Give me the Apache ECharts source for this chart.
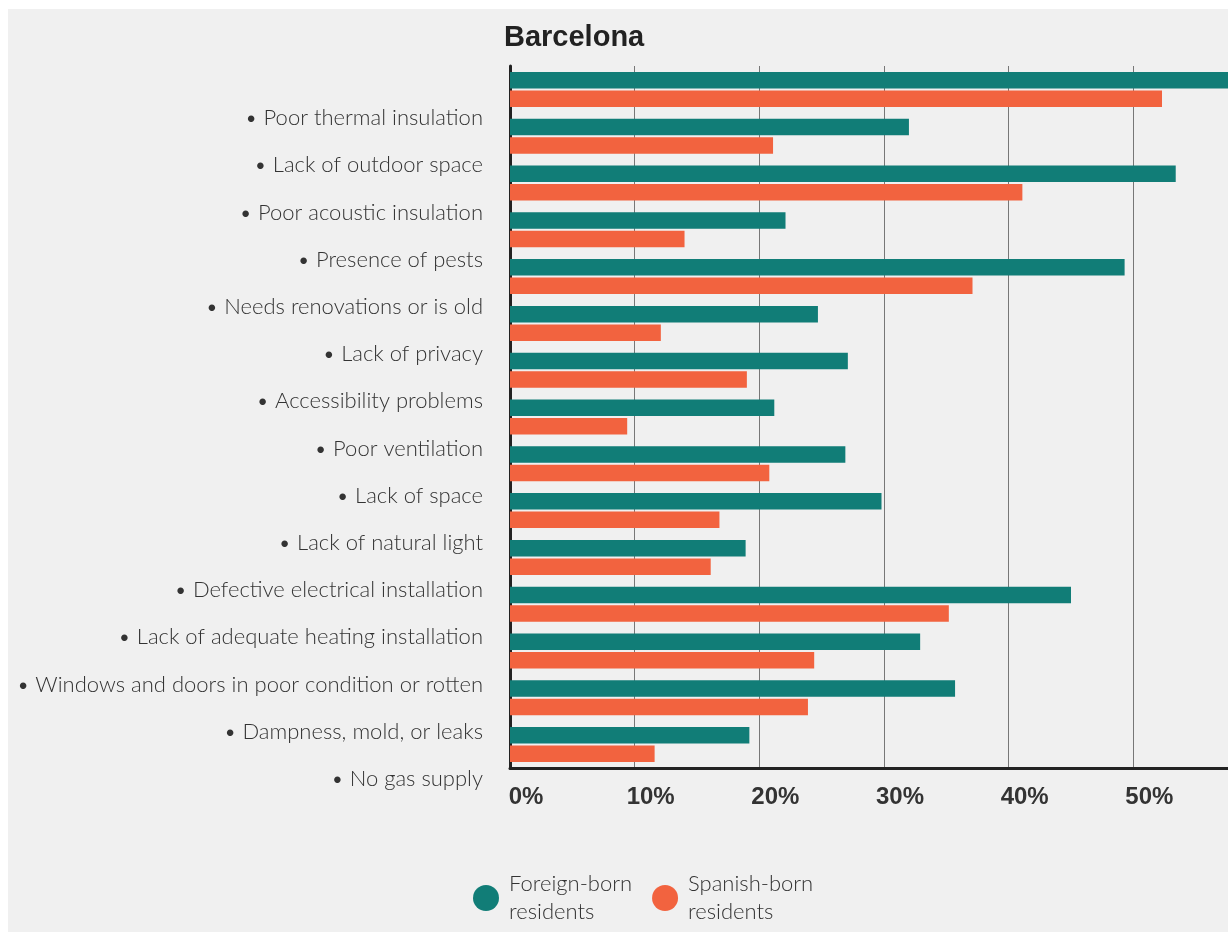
<!DOCTYPE html>
<html>
<head>
<meta charset="utf-8">
<title>Barcelona</title>
<script src="https://cdn.jsdelivr.net/npm/echarts@6/dist/echarts.min.js"></script>
<style>
  html, body { margin: 0; padding: 0; background: #fff; }
  #panel { position: absolute; left: 8px; top: 9px; right: 0; bottom: 0; background: #f0f0f0; }
  #chart { position: absolute; left: 0; top: 0; width: 1228px; height: 932px; }
</style>
</head>
<body>
<div id="panel"></div>
<div id="chart"></div>
<script>
// tick labels on the left (they sit one row below their bars in the original)
const problems = [
  'Poor thermal insulation',
  'Lack of outdoor space',
  'Poor acoustic insulation',
  'Presence of pests',
  'Needs renovations or is old',
  'Lack of privacy',
  'Accessibility problems',
  'Poor ventilation',
  'Lack of space',
  'Lack of natural light',
  'Defective electrical installation',
  'Lack of adequate heating installation',
  'Windows and doors in poor condition or rotten',
  'Dampness, mold, or leaks',
  'No gas supply'
];

// bar rows, top to bottom (%)
const barRows = ['1', '2', '3', '4', '5', '6', '7', '8', '9', '10', '11', '12', '13', '14', '15'];
const foreignBorn = [58, 32.0, 53.4, 22.1, 49.3, 24.7, 27.1, 21.2, 26.9, 29.8, 18.9, 45.0, 32.9, 35.7, 19.2];
const spanishBorn = [52.3, 21.1, 41.1, 14.0, 37.1, 12.1, 19.0, 9.4, 20.8, 16.8, 16.1, 35.2, 24.4, 23.9, 11.6];

const seriesNames = ['Foreign-born residents', 'Spanish-born residents'];
const xTicks = [0, 60, 10]; // min, max, interval

const chart = echarts.init(document.getElementById('chart'), null, { renderer: 'canvas' });

const lightFont = 'Lato, "Open Sans", sans-serif';
const boldFont = '"Liberation Sans", Arial, sans-serif';

var option = {
  animation: false,
  backgroundColor: 'transparent',
  color: ['#117d77', '#f2633f'],
  title: {
    text: 'Barcelona',
    left: 499,
    top: 18,
    textStyle: { fontFamily: boldFont, fontWeight: 'bold', fontSize: 29, color: '#222' }
  },
  legend: {
    data: seriesNames,
    left: 473,
    top: 870,
    padding: 0,
    icon: 'circle',
    itemWidth: 26,
    itemHeight: 26,
    itemGap: 20,
    formatter: function (name) { return name.replace(' ', '\n'); },
    textStyle: {
      fontFamily: lightFont, fontWeight: 300, fontSize: 22, lineHeight: 28,
      color: '#333', padding: [0, 0, 0, 5]
    }
  },
  grid: [
    // bars (60% sits past the right edge, like the clipped original)
    { left: 510, top: 66, width: 748, height: 702, outerBoundsMode: 'none' },
    // label column
    { left: 510, top: 118, width: 10, height: 661, outerBoundsMode: 'none' }
  ],
  xAxis: [
    {
      gridIndex: 0,
      type: 'value',
      min: xTicks[0],
      max: xTicks[1],
      interval: xTicks[2],
      axisLine: { show: true, onZero: false, lineStyle: { color: '#222', width: 3 } },
      axisTick: { show: false },
      splitLine: { show: true, lineStyle: { color: '#777', width: 1 } },
      axisLabel: {
        formatter: '{value}%',
        margin: 17,
        align: 'center',
        padding: [0, 0, 0, 32],
        fontFamily: boldFont, fontWeight: 'bold', fontSize: 24, color: '#333'
      }
    },
    { gridIndex: 1, type: 'value', show: false }
  ],
  yAxis: [
    {
      gridIndex: 0,
      type: 'category',
      inverse: true,
      data: barRows,
      axisLine: { show: true, lineStyle: { color: '#222', width: 3 } },
      axisTick: { show: false },
      axisLabel: { show: false }
    },
    {
      gridIndex: 1,
      type: 'category',
      inverse: true,
      boundaryGap: false,
      data: problems,
      axisLine: { show: false },
      axisTick: { show: false },
      splitLine: { show: false },
      axisLabel: {
        margin: 27,
        formatter: function (v) { return '\u2022 ' + v; },
        fontFamily: lightFont, fontWeight: 300, fontSize: 22, color: '#333'
      }
    }
  ],
  series: [
    {
      name: seriesNames[0],
      type: 'bar',
      xAxisIndex: 0,
      yAxisIndex: 0,
      barWidth: 16.5,
      barGap: '12%',
      data: foreignBorn
    },
    {
      name: seriesNames[1],
      type: 'bar',
      xAxisIndex: 0,
      yAxisIndex: 0,
      barWidth: 16.5,
      barGap: '12%',
      data: spanishBorn
    }
  ]
};

chart.setOption(option);
</script>
</body>
</html>
